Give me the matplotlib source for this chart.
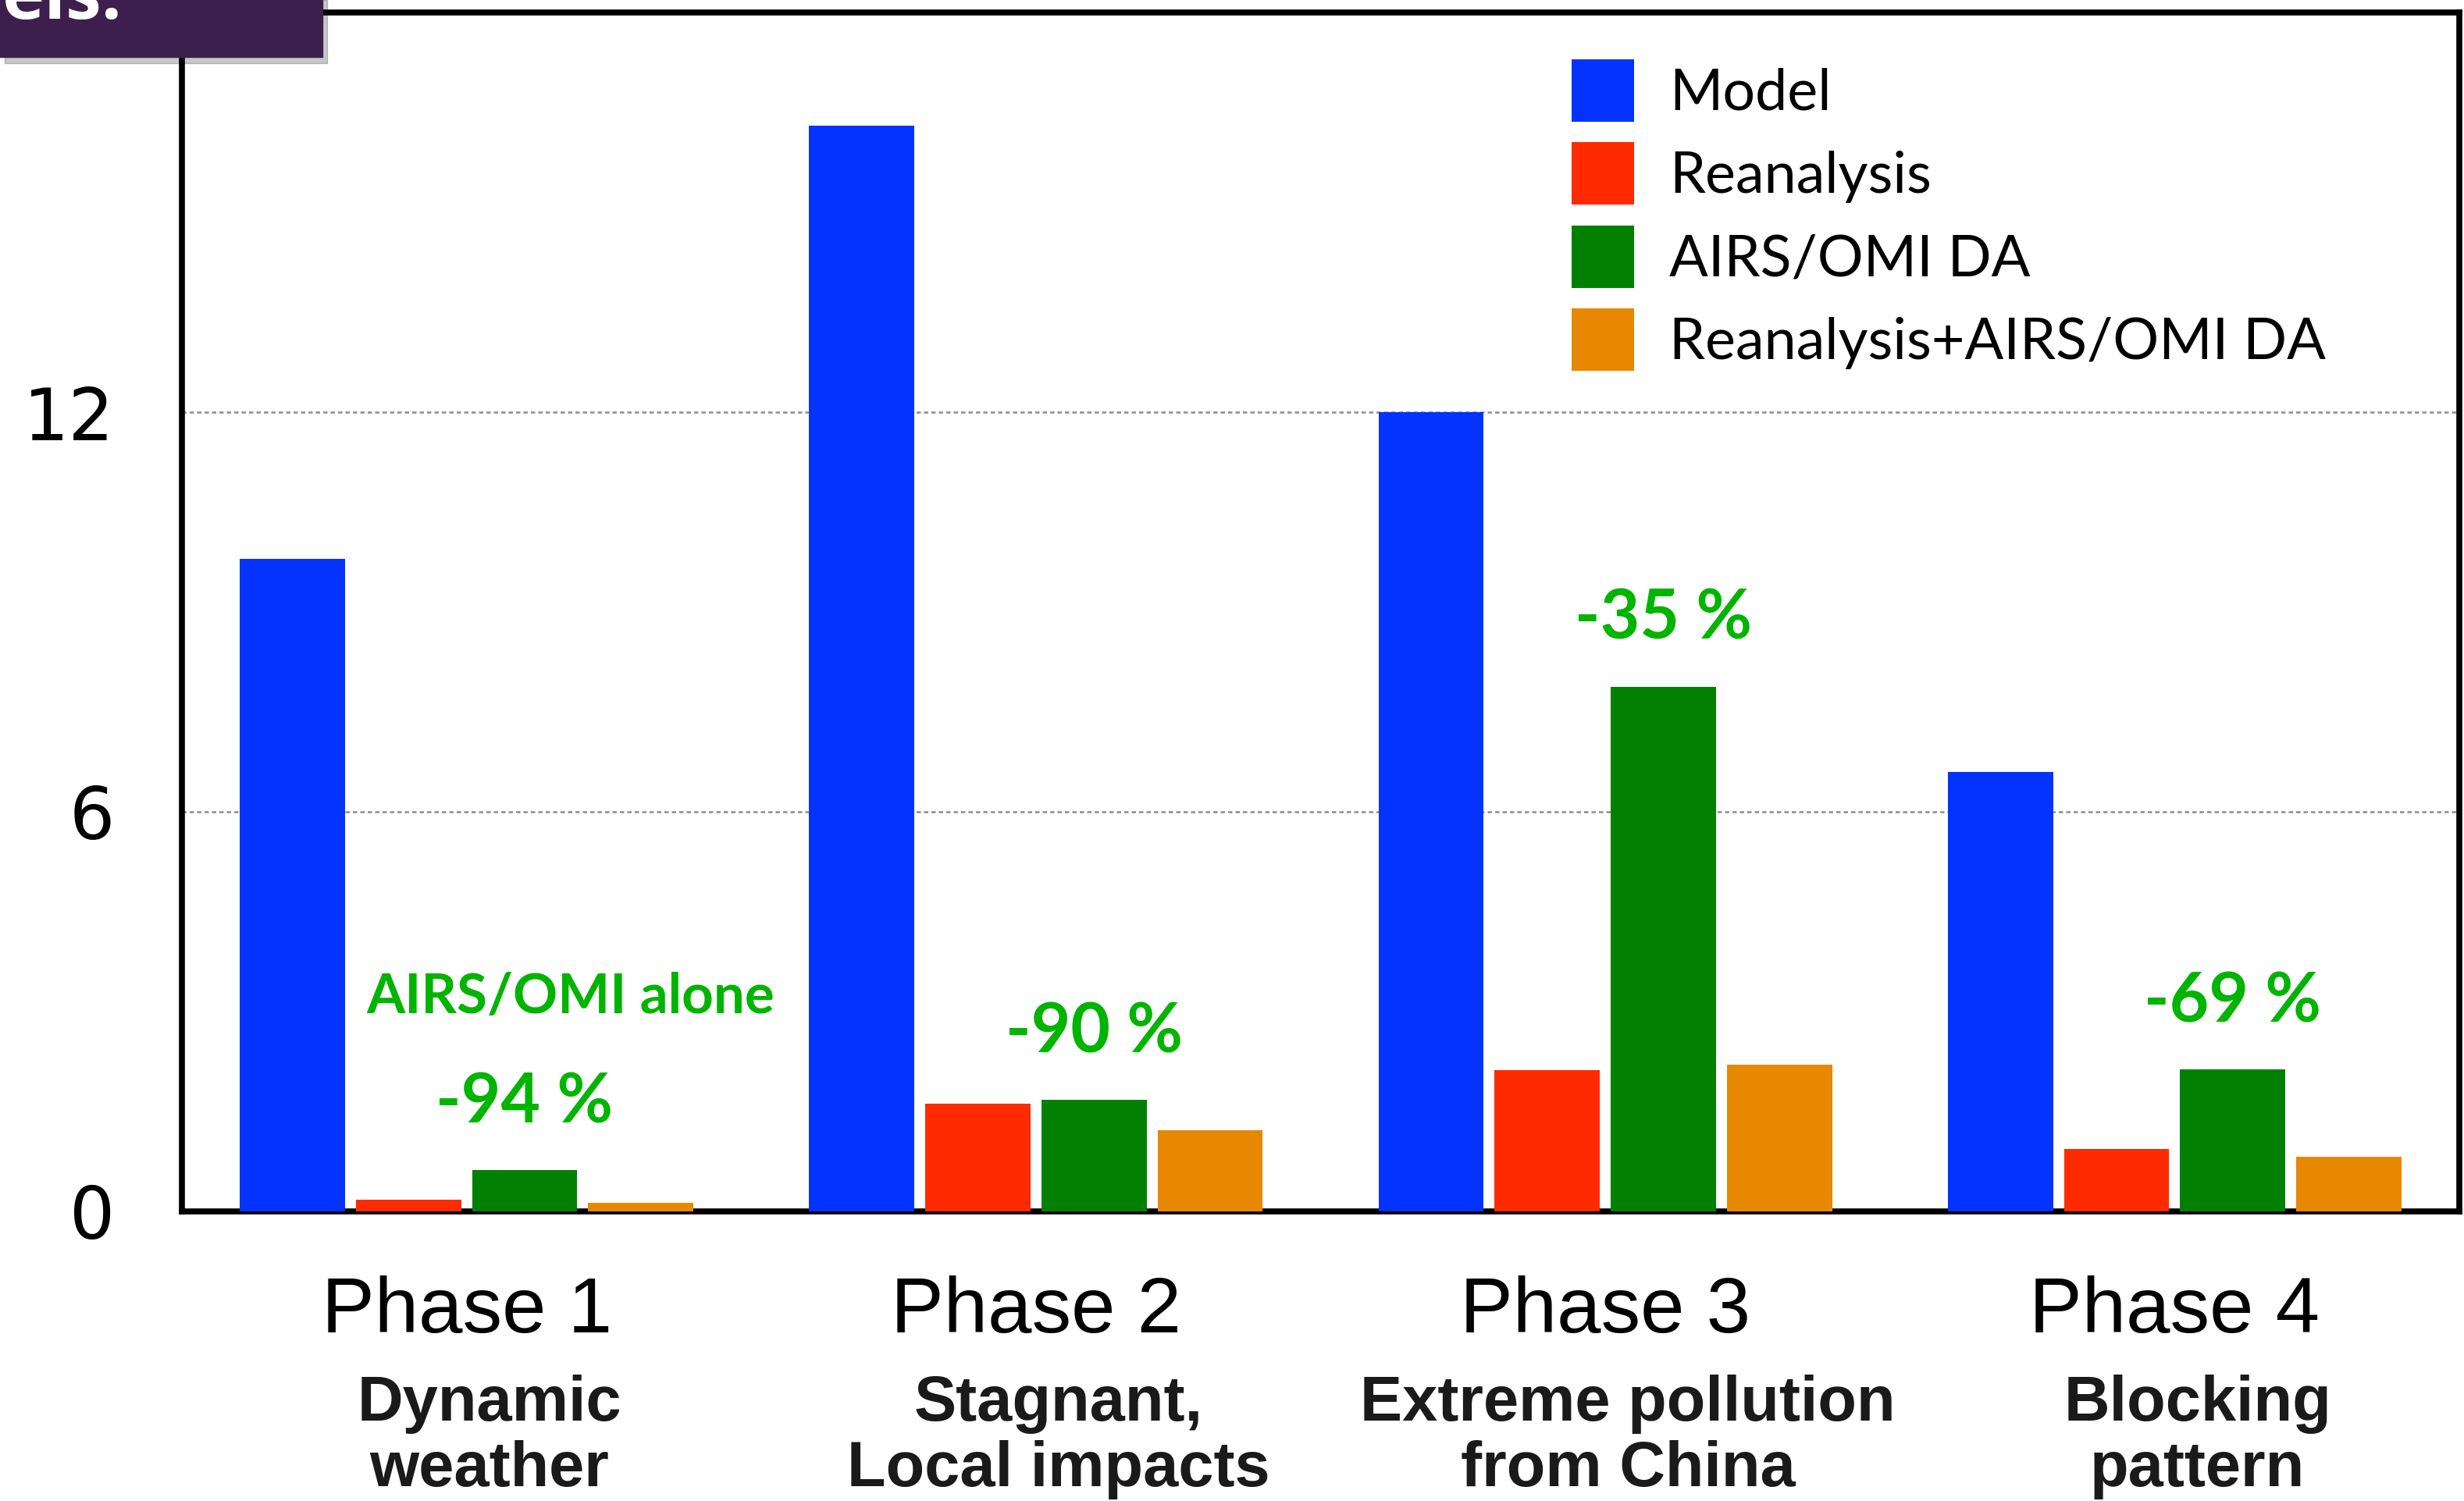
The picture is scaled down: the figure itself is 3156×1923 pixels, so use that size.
import matplotlib
matplotlib.use("Agg")
import matplotlib.pyplot as plt
import numpy as np
from matplotlib.patches import Rectangle

# ---------------- data ----------------
phases = ["Phase 1", "Phase 2", "Phase 3", "Phase 4"]
descriptions = ["Dynamic\nweather", "Stagnant,\nLocal impacts",
                "Extreme pollution\nfrom China", "Blocking\npattern"]
series_names = ["Model", "Reanalysis", "AIRS/OMI DA", "Reanalysis+AIRS/OMI DA"]
model = [9.8, 16.3, 12.0, 6.6]
reanalysis = [0.18, 1.62, 2.12, 0.94]
airs_omi = [0.62, 1.68, 7.88, 2.13]
rean_airs = [0.13, 1.22, 2.2, 0.82]
reductions = ["-94 %", "-90 %", "-35 %", "-69 %"]
yticks = [0, 6, 12]
header_text = "els:"

colors = ["#0433FF", "#FF2A00", "#018001", "#E78800"]
green_txt = "#00B400"

# ---------------- figure ----------------
W, H = 3156, 1923
fig = plt.figure(figsize=(W / 100, H / 100), dpi=100)
ax = fig.add_axes([233 / W, 1 - 1552 / H, (3150 - 233) / W, (1552 - 16) / H])

x = np.arange(len(phases))
step = 0.204
width = 0.185
all_series = [model, reanalysis, airs_omi, rean_airs]
for i, (vals, name, c) in enumerate(zip(all_series, series_names, colors)):
    ax.bar(x + (i - 1.5) * step, vals, width=width, color=c, label=name,
           zorder=3, edgecolor="none")

ax.set_xlim(-0.5, 3.5)
ax.set_ylim(0, 18)
ax.set_yticks(yticks)
ax.set_yticklabels([str(t) for t in yticks], fontsize=66, family="DejaVu Sans")
ax.tick_params(axis="y", length=0, pad=62)
ax.set_xticks([])
for yv in yticks[1:]:
    ax.axhline(yv, color="#8c8c8c", lw=1.8, ls=(0, (2.2, 1.6)), zorder=1)

for sp in ax.spines.values():
    sp.set_linewidth(5.5)
    sp.set_color("black")

# reduction annotations above AIRS/OMI bars
for xi, v, lab in zip(x + 0.5 * step, airs_omi, reductions):
    ax.annotate(lab, (xi, v), xytext=(0, 62), textcoords="offset points",
                ha="center", va="center", fontsize=63, fontweight="bold",
                color=green_txt, family="Lato", zorder=5)
ax.text(x[0] + 0.182, 3.22, "AIRS/OMI alone", ha="center", va="center",
        fontsize=51, fontweight="bold", color=green_txt, family="Lato")

# x labels
tr = ax.get_xaxis_transform()
for xi, ph, desc in zip(x, phases, descriptions):
    ax.text(xi, -0.1009, ph, transform=tr, ha="center", va="baseline",
            fontsize=73, family="Liberation Sans")
    for k, line in enumerate(desc.split("\n")):
        ax.text(xi + 0.04, -0.1745 - k * 0.0547, line, transform=tr,
                ha="center", va="baseline", fontsize=58.5, fontweight="bold",
                family="Liberation Sans", color="#1a1a1a")

# legend
leg = ax.legend(loc="upper left", bbox_to_anchor=(2013 / W, 1 - 76 / H),
                bbox_transform=fig.transFigure, frameon=False, borderpad=0,
                borderaxespad=0, handlelength=1.087, handleheight=1.295,
                labelspacing=0.36, handletextpad=0.61,
                prop={"family": "Lato", "size": 53})

# header box (cut-off title)
fig.patches.append(Rectangle((6 / W, 1 - 81 / H), 413 / W, 81 / H,
                             transform=fig.transFigure, color="#000000",
                             alpha=0.22, zorder=9))
fig.patches.append(Rectangle((0, 1 - 73 / H), 413 / W, 73 / H,
                             transform=fig.transFigure, color="#3C1F4F",
                             zorder=10))
fig.text(157 / W, 1 - 24 / H, header_text, ha="right", va="baseline",
         fontsize=66, fontweight="bold", color="white", family="Open Sans",
         zorder=11)

fig.savefig("out.png", dpi=100)
